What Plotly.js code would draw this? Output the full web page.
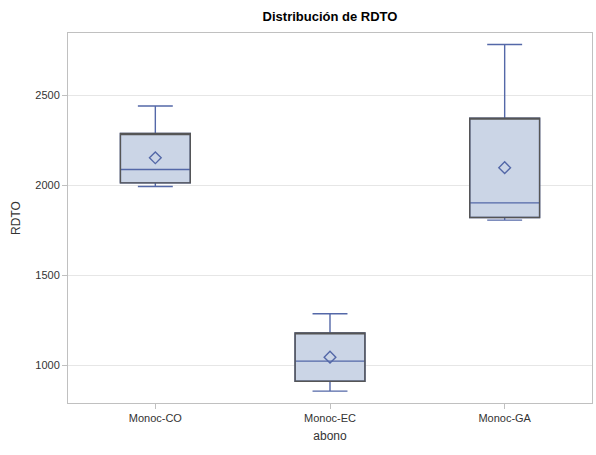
<!DOCTYPE html>
<html>
<head>
<meta charset="utf-8">
<script src="https://cdn.plot.ly/plotly-3.0.1.min.js"></script>
<style>html,body{margin:0;padding:0;background:#fff;}#chart{width:596px;height:455px;}</style>
</head>
<body>
<div id="chart"></div>
<script>
// Summary statistics of RDTO by abono
const categories = ['Monoc-CO', 'Monoc-EC', 'Monoc-GA'];
const minVals    = [1993, 858, 1806];
const q1Vals     = [2013, 913, 1821];
const medianVals = [2087, 1024, 1902];
const q3Vals     = [2287, 1181, 2372];
const maxVals    = [2439, 1287, 2780];
const meanVals   = [2152, 1046, 2097];
const yTicks     = [1000, 1500, 2000, 2500];

const blue = '#5468a8';
const fill = '#cbd5e6';
const outline = '#555555';

// Filled box with blue whiskers and median
const boxes = {
  type: 'box',
  x: categories,
  q1: q1Vals,
  median: medianVals,
  q3: q3Vals,
  lowerfence: minVals,
  upperfence: maxVals,
  width: 0.4,
  whiskerwidth: 0.5,
  fillcolor: fill,
  line: {color: blue, width: 1.4},
  boxpoints: false,
  hoverinfo: 'skip',
  showlegend: false
};

// Dark outline of the interquartile box
const outlines = {
  type: 'box',
  x: categories,
  q1: q1Vals,
  median: q3Vals,
  q3: q3Vals,
  lowerfence: q1Vals,
  upperfence: q3Vals,
  width: 0.4,
  whiskerwidth: 0,
  fillcolor: 'rgba(0,0,0,0)',
  line: {color: outline, width: 1.4},
  boxpoints: false,
  hoverinfo: 'skip',
  showlegend: false
};

// Mean markers
const means = {
  type: 'scatter',
  mode: 'markers',
  x: categories,
  y: meanVals,
  marker: {symbol: 'diamond-open', size: 9, color: blue, line: {width: 1.4, color: blue}},
  hoverinfo: 'skip',
  showlegend: false
};

const layout = {
  width: 596,
  height: 455,
  margin: {l: 68, r: 4, t: 33, b: 52},
  paper_bgcolor: '#ffffff',
  plot_bgcolor: '#ffffff',
  boxmode: 'overlay',
  font: {family: 'Liberation Sans, Arial, sans-serif', size: 11, color: '#333333'},
  title: {
    text: '<b>Distribución de RDTO</b>',
    font: {family: 'Liberation Sans, Arial, sans-serif', size: 13, color: '#000000'},
    x: 0.5, xref: 'paper', xanchor: 'center',
    y: 1, yref: 'container', yanchor: 'top', pad: {t: 12}
  },
  xaxis: {
    type: 'category',
    range: [-0.5, 2.5],
    title: {text: 'abono', font: {size: 12, color: '#333333'}, standoff: 8},
    showline: true, mirror: true, linecolor: '#c0c0c0', linewidth: 1,
    ticks: 'outside', ticklen: 5, tickcolor: '#c0c0c0',
    showgrid: false, zeroline: false,
    tickfont: {size: 11, color: '#333333'}
  },
  yaxis: {
    title: {text: 'RDTO', font: {size: 12, color: '#333333'}, standoff: 12},
    range: [792, 2844],
    tickvals: yTicks,
    ticktext: yTicks.map(String),
    showline: true, mirror: true, linecolor: '#c0c0c0', linewidth: 1,
    ticks: 'outside', ticklen: 5, tickcolor: '#c0c0c0',
    showgrid: true, gridcolor: '#e6e6e6', gridwidth: 1,
    zeroline: false,
    tickfont: {size: 11, color: '#333333'}
  }
};

Plotly.newPlot('chart', [boxes, outlines, means], layout, {displayModeBar: false, staticPlot: true});
</script>
</body>
</html>
